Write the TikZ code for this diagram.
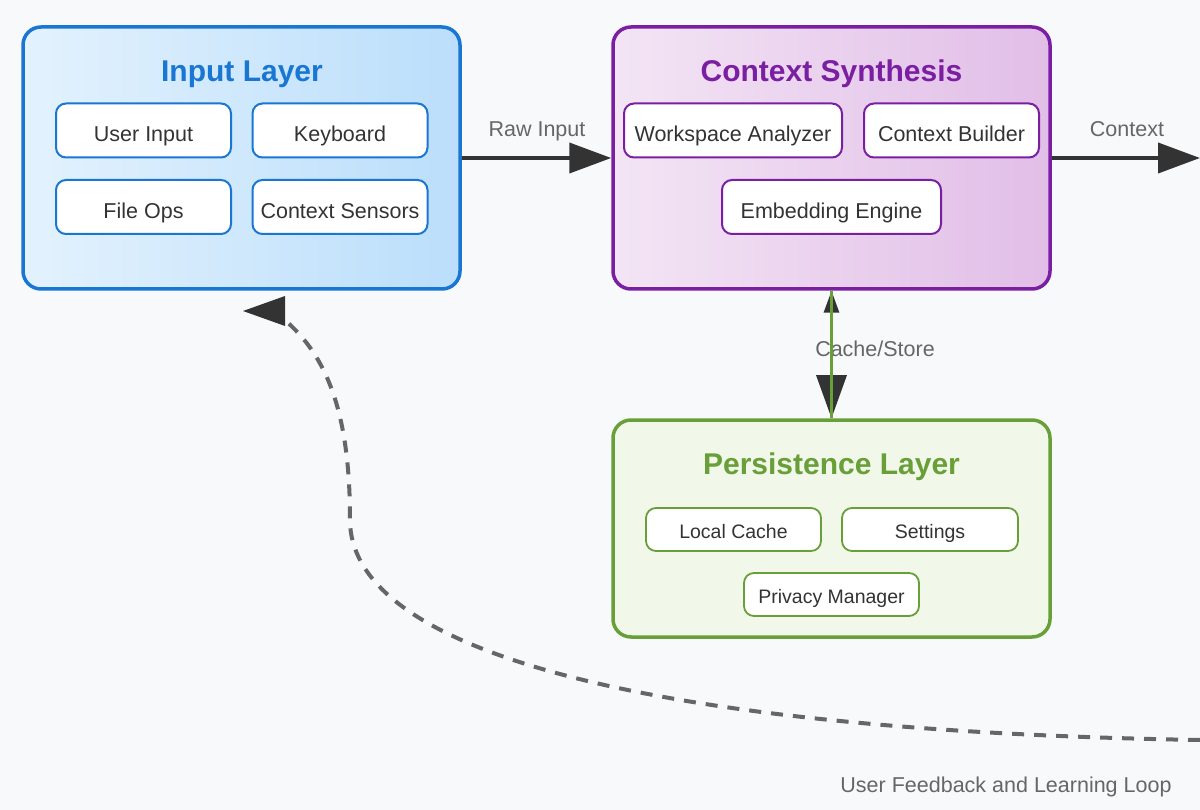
\documentclass[tikz,border=0pt]{standalone}
\usepackage{fontspec}
\setmainfont{Liberation Sans}
\usetikzlibrary{arrows.meta}
\definecolor{bg}{HTML}{F8F9FA}
\definecolor{blueS}{HTML}{1976D2}
\definecolor{blueL}{HTML}{E3F2FD}
\definecolor{blueR}{HTML}{BBDEFB}
\definecolor{purS}{HTML}{7B1FA2}
\definecolor{purL}{HTML}{F3E5F5}
\definecolor{purR}{HTML}{E1BEE7}
\definecolor{grnS}{HTML}{689F38}
\definecolor{grnF}{HTML}{F1F8E9}
\definecolor{txt}{HTML}{333333}
\definecolor{lblc}{HTML}{666666}
\definecolor{dark}{HTML}{333333}
\begin{document}
\begin{tikzpicture}[x=1pt,y=-1pt,
  layer/.style={draw, rounded corners=18pt, line width=3.5pt, minimum width=437pt, inner sep=0pt},
  inbox/.style={draw, fill=white, rounded corners=10pt, line width=2pt, text=txt,
    font=\fontsize{21.5}{24}\selectfont, inner sep=0pt, minimum width=175pt, minimum height=54pt,
    text height=23pt, text depth=0pt},
  pbox/.style={inbox, line width=1.8pt, draw=grnS, minimum height=43pt, font=\fontsize{19.5}{22}\selectfont,
    text height=17pt, text depth=0pt},
  ttl/.style={font=\fontsize{30}{32}\selectfont\bfseries, anchor=base},
  lbl/.style={text=lblc, font=\fontsize{21.5}{24}\selectfont, anchor=base},
  flow/.style={draw=dark, line width=4pt, -{Triangle[length=42pt,width=30pt]}},
  fb/.style={draw=lblc, line width=4pt, dash pattern=on 12pt off 10pt}
]
\useasboundingbox (0,0) rectangle (1200,810);
\clip (0,0) rectangle (1200,810);
\fill[bg] (0,0) rectangle (1200,810);

% Input layer
\node[layer, draw=blueS, left color=blueL, right color=blueR, minimum height=262pt] (inp) at (241.5,158) {};
\node[ttl, text=blueS] (inpT) at (242,82) {Input Layer};
\node[inbox, draw=blueS] (ui) at (143.5,130.5) {User Input};
\node[inbox, draw=blueS] (kb) at (340,130.5) {Keyboard};
\node[inbox, draw=blueS] (fo) at (143.5,207) {File Ops};
\node[inbox, draw=blueS] (cs) at (340,207) {Context Sensors};

% Context synthesis
\node[layer, draw=purS, left color=purL, right color=purR, minimum height=262pt] (ctx) at (831.5,158) {};
\node[ttl, text=purS] (ctxT) at (831.5,82) {Context Synthesis};
\node[inbox, draw=purS, minimum width=218pt] (wa) at (733,130.5) {Workspace Analyzer};
\node[inbox, draw=purS] (cb) at (951.5,130.5) {Context Builder};
\node[inbox, draw=purS, minimum width=219pt] (ee) at (831.5,207) {Embedding Engine};

% Persistence layer
\node[layer, draw=grnS, fill=grnF, minimum height=217pt] (pers) at (831.5,528.5) {};
\node[ttl, text=grnS] (persT) at (831.5,474) {Persistence Layer};
\node[pbox] (lc) at (733.5,529.5) {Local Cache};
\node[pbox, minimum width=176pt] (st) at (930,529.5) {Settings};
\node[pbox] (pm) at (831.5,594.5) {Privacy Manager};

% Raw input / Context arrows
\draw[flow] (inp.east) -- (ctx.west);
\node[lbl] (rawL) at (537,137) {Raw Input};
\coordinate (outc) at (1200,158);
\draw[flow] (ctx.east) -- (outc);
\node[lbl] (ctxL) at (1127,137) {Context};

% Cache/Store
\node[lbl] (csL) at (875,356) {Cache/Store};
\draw[dark, line width=3.2pt, {Triangle[length=22pt,width=15pt]}-{Triangle[length=43pt,width=30pt]}] (ctx.south) -- (pers.north);
\draw[grnS, line width=2.2pt] (ctx.south) -- (pers.north);

% Feedback loop
\coordinate (fbstart) at (1200,740);
\coordinate (fbend) at (287,322);
\coordinate (fbtip) at (243,311);
\draw[fb] (fbstart) .. controls (600,730) and (350,640) .. (350,520) .. controls (350,420) and (330,360) .. (fbend);
\fill[dark] (fbtip) -- ++(42,-15) -- ++(0,30) -- cycle;
\node[lbl] (fbL) at (1006,792) {User Feedback and Learning Loop};
\end{tikzpicture}
\end{document}
